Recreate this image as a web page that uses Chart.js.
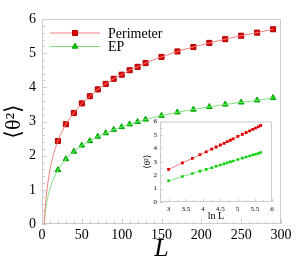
<!DOCTYPE html>
<html>
<head>
<meta charset="utf-8">
<script src="https://cdn.jsdelivr.net/npm/chart.js@4"></script>
<style>
html, body { margin: 0; padding: 0; background: #fff; }
#wrap { position: relative; width: 298px; height: 265px; }
#main { position: absolute; left: 0; top: 0; }
#inset { position: absolute; left: 136px; top: 112px; }
</style>
</head>
<body>
<div id="wrap">
  <canvas id="main" width="298" height="265"></canvas>
  <canvas id="inset" width="142" height="112"></canvas>
</div>
<script>
'use strict';

// system sizes L and the measured <theta^2>
const sizes = [20, 30, 40, 50, 60, 70, 80, 90, 100, 110, 120, 130, 150, 170, 190, 210, 230, 250, 270, 290];
const perimeter = [2.43, 2.92, 3.25, 3.53, 3.74, 3.94, 4.10, 4.25, 4.37, 4.50, 4.60, 4.71, 4.89, 5.05, 5.18, 5.30, 5.41, 5.51, 5.60, 5.70];
const ep = [1.58, 1.90, 2.12, 2.30, 2.43, 2.56, 2.66, 2.76, 2.84, 2.92, 2.99, 3.06, 3.17, 3.27, 3.35, 3.43, 3.50, 3.56, 3.62, 3.69];

// fit curves below the first marker
const fitHeadL = [2.8, 4, 6, 10, 15];
const perimeterFitHead = [0, 0.46, 0.95, 1.58, 2.08];
const epFitHead = [0, 0.30, 0.63, 1.03, 1.35];

// inset: ln L
const lnSizes = [3.00, 3.40, 3.69, 3.91, 4.09, 4.25, 4.38, 4.50, 4.61, 4.70, 4.79, 4.87, 5.01, 5.14, 5.25, 5.35, 5.44, 5.52, 5.60, 5.67];
const insetXTicks = [3, 3.5, 4, 4.5, 5, 5.5, 6];

const serif = '"Liberation Serif", "DejaVu Serif", serif';
const red = '#e00000', redLine = '#f08080';
const green = '#00d000', greenLine = '#80e080';

const pts = (xs, ys) => xs.map((v, i) => ({x: v, y: ys[i]}));

// box round the plot and inward tick marks
const frame = {
    id: 'frame',
    beforeDatasetsDraw(chart, args, o) {
        const {ctx, chartArea: a} = chart;
        const x = chart.scales.x, y = chart.scales.y;
        ctx.save();
        ctx.strokeStyle = o.color;
        ctx.lineWidth = 1;
        ctx.strokeRect(a.left + 0.5, a.top + 0.5, a.right - a.left - 1, a.bottom - a.top - 1);
        ctx.beginPath();
        const marks = (axis, major, minor, cb) => {
            const n = Math.round((axis.max - axis.min) / minor);
            const start = Math.ceil(axis.min / minor - 1e-6) * minor;
            for (let i = 0; i <= n; i++) {
                const v = start + i * minor;
                if (v > axis.max + 1e-6) break;
                const isMajor = Math.abs(v / major - Math.round(v / major)) < 1e-6;
                cb(Math.round(axis.getPixelForValue(v)) + 0.5, isMajor ? o.major : o.minor);
            }
        };
        marks(x, o.xMajor, o.xMinor, (p, len) => { ctx.moveTo(p, a.bottom); ctx.lineTo(p, a.bottom - len); });
        marks(y, o.yMajor, o.yMinor, (p, len) => { ctx.moveTo(a.left, p); ctx.lineTo(a.left + len, p); });
        ctx.stroke();
        ctx.restore();
    }
};

// legend: line with marker in the middle, then the name
const lineLegend = {
    id: 'lineLegend',
    afterDraw(chart) {
        const {ctx, chartArea: a} = chart;
        const items = [
            {text: 'Perimeter', line: redLine, fill: red, border: '#b00000', style: 'rect', r: 3.6},
            {text: 'EP', line: greenLine, fill: green, border: '#00a000', style: 'triangle', r: 3.3}
        ];
        ctx.save();
        ctx.font = '14px ' + serif;
        ctx.textBaseline = 'middle';
        items.forEach((it, i) => {
            const yy = a.top + 14 + i * 13.5;
            ctx.strokeStyle = it.line;
            ctx.lineWidth = 1;
            ctx.beginPath();
            ctx.moveTo(a.left + 8, yy);
            ctx.lineTo(a.left + 58, yy);
            ctx.stroke();
            ctx.fillStyle = it.fill;
            ctx.strokeStyle = it.border;
            Chart.helpers.drawPoint(ctx, {pointStyle: it.style, radius: it.r, borderWidth: 1}, a.left + 33, yy);
            ctx.fillStyle = '#000';
            ctx.fillText(it.text, a.left + 66, yy + 1);
        });
        ctx.restore();
    }
};

const mainChart = new Chart(document.getElementById('main').getContext('2d'), {
    type: 'scatter',
    data: {
        datasets: [
            {
                data: pts(fitHeadL.concat(sizes), perimeterFitHead.concat(perimeter)),
                showLine: true, borderColor: redLine, borderWidth: 1, pointRadius: 0,
                cubicInterpolationMode: 'monotone'
            },
            {
                data: pts(fitHeadL.concat(sizes), epFitHead.concat(ep)),
                showLine: true, borderColor: greenLine, borderWidth: 1, pointRadius: 0,
                cubicInterpolationMode: 'monotone'
            },
            {
                data: pts(sizes, perimeter), pointStyle: 'rect', pointRadius: 3.6,
                backgroundColor: red, borderColor: '#b00000', borderWidth: 1
            },
            {
                data: pts(sizes, ep), pointStyle: 'triangle', pointRadius: 3.3,
                backgroundColor: green, borderColor: '#00a000', borderWidth: 1
            }
        ]
    },
    options: {
        responsive: false,
        animation: false,
        events: [],
        layout: {padding: {top: 19, right: 17, left: 0, bottom: 0}},
        plugins: {
            legend: {display: false},
            tooltip: {enabled: false},
            frame: {color: '#cccccc', major: 5, minor: 3, xMajor: 50, xMinor: 10, yMajor: 1, yMinor: 0.2}
        },
        scales: {
            x: {
                type: 'linear', min: 0, max: 300,
                grid: {display: false, drawTicks: false},
                border: {display: false},
                ticks: {stepSize: 50, color: '#000', padding: 3, font: {family: serif, size: 14}},
                title: {display: true, text: 'L', color: '#000', padding: {top: 0, bottom: 0},
                    font: {family: serif, size: 26, style: 'italic'}},
                afterFit: s => { s.height = 41; }
            },
            y: {
                min: 0, max: 6,
                grid: {display: false, drawTicks: false},
                border: {display: false},
                ticks: {stepSize: 1, color: '#000', padding: 6, font: {family: serif, size: 14}},
                title: {display: true, text: '⟨θ²⟩', color: '#000', padding: {top: 1, bottom: 0},
                    font: {family: serif, size: 22}},
                afterFit: s => { s.width = 42; }
            }
        }
    },
    plugins: [frame, lineLegend]
});

const insetChart = new Chart(document.getElementById('inset').getContext('2d'), {
    type: 'scatter',
    data: {
        datasets: [
            {
                data: pts(lnSizes, perimeter), showLine: true, borderColor: redLine, borderWidth: 1,
                pointStyle: 'rect', pointRadius: 2, backgroundColor: red, pointBorderColor: red, pointBorderWidth: 0
            },
            {
                data: pts(lnSizes, ep), showLine: true, borderColor: greenLine, borderWidth: 1,
                pointStyle: 'rect', pointRadius: 1.8, backgroundColor: green, pointBorderColor: green, pointBorderWidth: 0
            }
        ]
    },
    options: {
        responsive: false,
        animation: false,
        events: [],
        layout: {padding: {top: 9.5, right: 6, left: 0, bottom: 0}},
        plugins: {
            legend: {display: false},
            tooltip: {enabled: false},
            frame: {color: '#cccccc', major: 3, minor: 2, xMajor: 0.5, xMinor: 0.25, yMajor: 1, yMinor: 0.5}
        },
        scales: {
            x: {
                type: 'linear', min: 2.75, max: 6,
                grid: {display: false, drawTicks: false},
                border: {display: false},
                afterBuildTicks: s => { s.ticks = insetXTicks.map(v => ({value: v})); },
                ticks: {color: '#000', padding: 3, maxRotation: 0, font: {family: serif, size: 7},
                    callback: v => String(v)},
                title: {display: true, text: 'ln L', color: '#000', padding: {top: 0, bottom: 2},
                    font: {family: serif, size: 10}},
                afterFit: s => { s.height = 22; }
            },
            y: {
                min: 0, max: 6,
                grid: {display: false, drawTicks: false},
                border: {display: false},
                ticks: {stepSize: 1, color: '#000', padding: 3, font: {family: serif, size: 7}},
                title: {display: true, text: '⟨θ²⟩', color: '#000', padding: {top: 6, bottom: 0},
                    font: {family: serif, size: 9}},
                afterFit: s => { s.width = 24; }
            }
        }
    },
    plugins: [frame]
});
</script>
</body>
</html>
